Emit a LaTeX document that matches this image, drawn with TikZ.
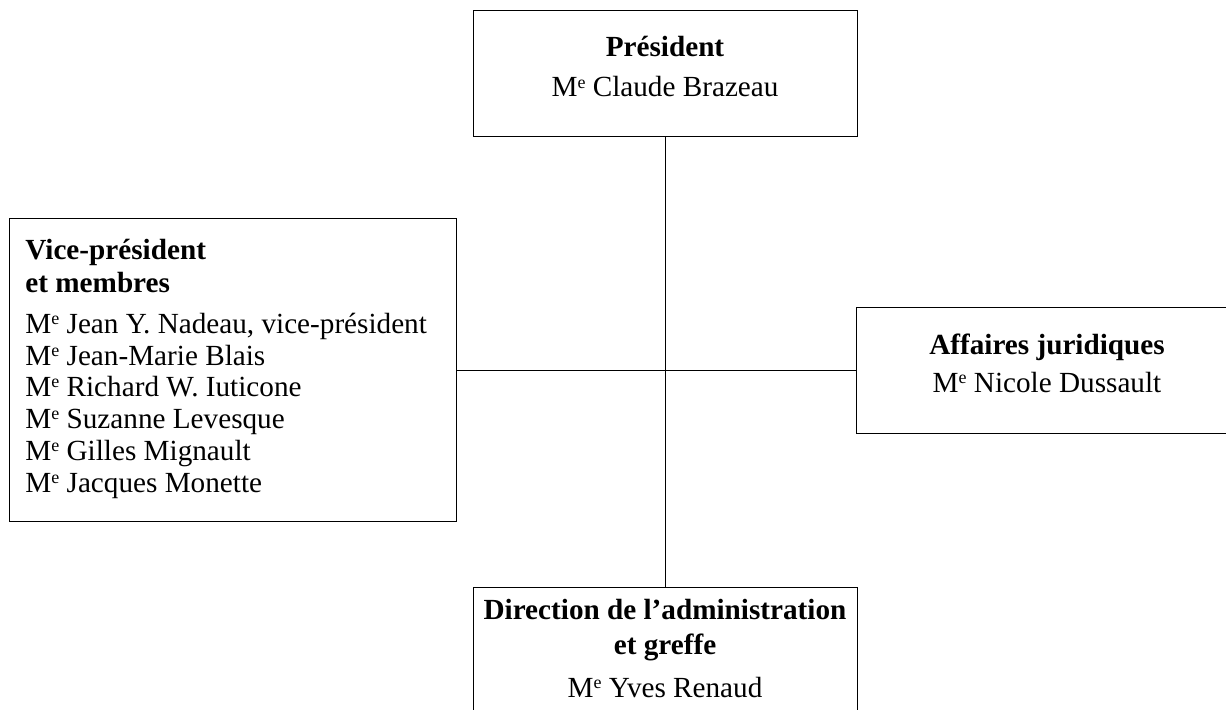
\documentclass[tikz,border=0pt]{standalone}
\usepackage{fontspec}
\setmainfont{Liberation Serif}
\newcommand\Me{M\raisebox{0.62ex}{\fontsize{9bp}{9bp}\selectfont e}\ }
\begin{document}
\begin{tikzpicture}[x=0.5bp,y=-0.5bp,
  box/.style={draw,line width=0.65bp,inner sep=0pt,anchor=north west},
  conn/.style={line width=0.65bp},
  lbl/.style={inner sep=0pt,font=\fontsize{14.6bp}{16bp}\selectfont},
  hd/.style={lbl,font=\fontsize{14.6bp}{16bp}\selectfont\bfseries}]
\useasboundingbox (0,0) rectangle (1226,709);
% boxes
\node[box,minimum width=192bp,minimum height=63bp] (pres) at (473,10) {};
\node[box,minimum width=223.5bp,minimum height=151.5bp] (vp) at (9,218) {};
\node[box,minimum width=190bp,minimum height=63bp] (aff) at (856,307) {};
\node[box,minimum width=192bp,minimum height=70bp] (dir) at (473,587) {};
% connectors
\draw[conn] (pres.south) -- (pres.south |- dir.north);
\draw[conn] (vp.east) -- (vp.east -| aff.west);
% president
\node[hd,anchor=base] (t1) at (665,57) {Président};
\node[lbl,anchor=base] (t2) at (665,97) {\Me Claude Brazeau};
% vice-president
\node[hd,anchor=base west] (v1) at (25,259) {Vice-président};
\node[hd,anchor=base west] (v2) at (25,292) {et membres};
\node[lbl,anchor=base west] (v3) at (25,333) {\Me Jean Y. Nadeau, vice-président};
\node[lbl,anchor=base west] (v4) at (25,365) {\Me Jean-Marie Blais};
\node[lbl,anchor=base west] (v5) at (25,396) {\Me Richard W. Iuticone};
\node[lbl,anchor=base west] (v6) at (25,428) {\Me Suzanne Levesque};
\node[lbl,anchor=base west] (v7) at (25,460) {\Me Gilles Mignault};
\node[lbl,anchor=base west] (v8) at (25,492) {\Me Jacques Monette};
% affaires juridiques
\node[hd,anchor=base] (a1) at (1047,354) {Affaires juridiques};
\node[lbl,anchor=base] (a2) at (1047,392) {\Me Nicole Dussault};
% direction
\node[hd,anchor=base] (d1) at (665,619) {Direction de l’administration};
\node[hd,anchor=base] (d2) at (665,654) {et greffe};
\node[lbl,anchor=base] (d3) at (665,697) {\Me Yves Renaud};
\end{tikzpicture}
\end{document}
